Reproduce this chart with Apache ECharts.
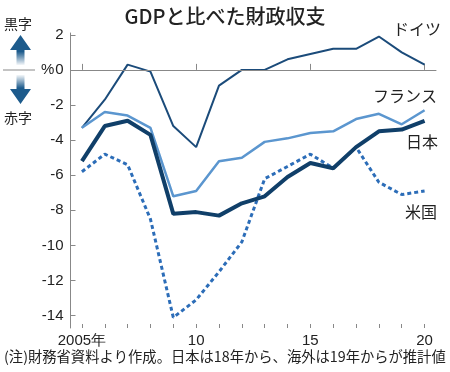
<!DOCTYPE html>
<html>
<head>
<meta charset="utf-8">
<script src="https://cdn.jsdelivr.net/npm/echarts@6/dist/echarts.min.js"></script>
<style>
html,body{margin:0;padding:0;background:#fff;}
#chart{width:450px;height:372px;}
</style>
</head>
<body>
<div id="chart"></div>
<script>
var years = [2005,2006,2007,2008,2009,2010,2011,2012,2013,2014,2015,2016,2017,2018,2019,2020];
var germany = [-3.3,-1.7,0.3,-0.1,-3.2,-4.4,-0.9,0.0,0.0,0.6,0.9,1.2,1.2,1.9,1.0,0.3];
var france  = [-3.3,-2.4,-2.6,-3.3,-7.2,-6.9,-5.2,-5.0,-4.1,-3.9,-3.6,-3.5,-2.8,-2.5,-3.1,-2.3];
var japan   = [-5.2,-3.2,-2.9,-3.7,-8.2,-8.1,-8.3,-7.6,-7.2,-6.1,-5.3,-5.6,-4.4,-3.5,-3.4,-2.9];
var usa     = [-5.8,-4.8,-5.4,-8.5,-14.1,-13.1,-11.5,-9.8,-6.2,-5.5,-4.8,-5.6,-4.4,-6.4,-7.1,-6.9];
var yTicks = [-14,-12,-10,-8,-6,-4,-2,0,2];
var xMajor = [2005,2010,2015,2020];
var xMajorLabels = ['2005年','10','15','20'];

var NUM_FONT = '"Liberation Sans Narrow","Liberation Sans",Arial,sans-serif';
var JP_FONT = '"Noto Sans CJK JP","Noto Sans",sans-serif';

function pairs(vals){ return years.map(function(y,i){ return [y, vals[i]]; }); }

var chart = echarts.init(document.getElementById('chart'), null, {renderer:'canvas'});
var upGrad = new echarts.graphic.LinearGradient(0,0,0,1,[
  {offset:0,color:'#1d5b8c'},{offset:0.55,color:'#1d5b8c'},{offset:1,color:'rgba(29,91,140,0.05)'}]);
var downGrad = new echarts.graphic.LinearGradient(0,0,0,1,[
  {offset:0,color:'rgba(29,91,140,0.05)'},{offset:0.45,color:'#1d5b8c'},{offset:1,color:'#1d5b8c'}]);

chart.setOption({
  animation:false,
  backgroundColor:'#fff',
  grid:{left:70.5, right:14, top:33, bottom:44, containLabel:false},
  xAxis:[{
    type:'value', min:2004.5, max:2020.5,
    axisLine:{show:true, lineStyle:{color:'#888', width:1}},
    axisTick:{show:true, inside:true, length:6, customValues:xMajor, lineStyle:{color:'#888'}},
    axisLabel:{show:true, customValues:xMajor, margin:5, fontSize:15, color:'#222', fontFamily:NUM_FONT,
      formatter:function(v){ var i = xMajor.indexOf(Math.round(v)); return i>=0 ? xMajorLabels[i] : ''; }},
    splitLine:{show:false}
  },{
    type:'value', min:2004.5, max:2020.5, position:'bottom',
    axisLine:{show:false},
    axisTick:{show:true, inside:true, length:4, customValues:years, lineStyle:{color:'#888'}},
    axisLabel:{show:false},
    splitLine:{show:false}
  }],
  yAxis:{
    type:'value', min:-14.7, max:2.1,
    axisLine:{show:true, lineStyle:{color:'#888', width:1}},
    axisTick:{show:true, inside:true, length:5, customValues:yTicks, lineStyle:{color:'#888'}},
    axisLabel:{show:true, customValues:yTicks, margin:7, fontSize:15, color:'#222', fontFamily:NUM_FONT},
    splitLine:{show:false}
  },
  series:[
    {name:'ドイツ', type:'line', data:pairs(germany), symbol:'none', z:3,
      lineStyle:{color:'#1b4b7a', width:2},
      markLine:{silent:true, symbol:'none', label:{show:false},
        lineStyle:{color:'#888', width:1, type:'solid'}, data:[{yAxis:0}]}},
    {name:'フランス', type:'line', data:pairs(france), symbol:'none', z:4,
      lineStyle:{color:'#5b96cf', width:2.5}},
    {name:'米国', type:'line', data:pairs(usa), symbol:'none', z:5,
      lineStyle:{color:'#2c6db8', width:3, type:[4,3]}},
    {name:'日本', type:'line', data:pairs(japan), symbol:'none', z:6,
      lineStyle:{color:'#103f69', width:4}}
  ],
  graphic:[
    {type:'text', left:'center', top:6, style:{text:'GDPと比べた財政収支', font:'500 20px '+JP_FONT, fill:'#222'}},
    {type:'text', x:4, y:17, style:{text:'黒字', font:'14px '+JP_FONT, fill:'#222'}},
    {type:'text', x:4, y:111, style:{text:'赤字', font:'14px '+JP_FONT, fill:'#222'}},
    {type:'text', x:41, y:62, style:{text:'%', font:'15px '+NUM_FONT, fill:'#222'}},
    {type:'line', shape:{x1:3, y1:70, x2:35, y2:70}, style:{stroke:'#888', lineWidth:1}},
    {type:'polygon', shape:{points:[[10,50],[20.5,35],[31,50],[24.5,50],[24.5,65],[16.5,65],[16.5,50]]}, style:{fill:upGrad}},
    {type:'polygon', shape:{points:[[16.5,75],[24.5,75],[24.5,89],[31,89],[20.5,104],[10,89],[16.5,89]]}, style:{fill:downGrad}},
    {type:'text', x:393, y:21, style:{text:'ドイツ', font:'16px '+JP_FONT, fill:'#222'}},
    {type:'text', x:373, y:88, style:{text:'フランス', font:'16px '+JP_FONT, fill:'#222'}},
    {type:'text', x:406, y:134, style:{text:'日本', font:'16px '+JP_FONT, fill:'#222'}},
    {type:'text', x:405, y:204, style:{text:'米国', font:'16px '+JP_FONT, fill:'#222'}},
    {type:'text', x:4, y:349, style:{text:'(注)財務省資料より作成。日本は18年から、海外は19年からが推計値', font:'14.3px '+JP_FONT, fill:'#222'}}
  ]
});
</script>
</body>
</html>
